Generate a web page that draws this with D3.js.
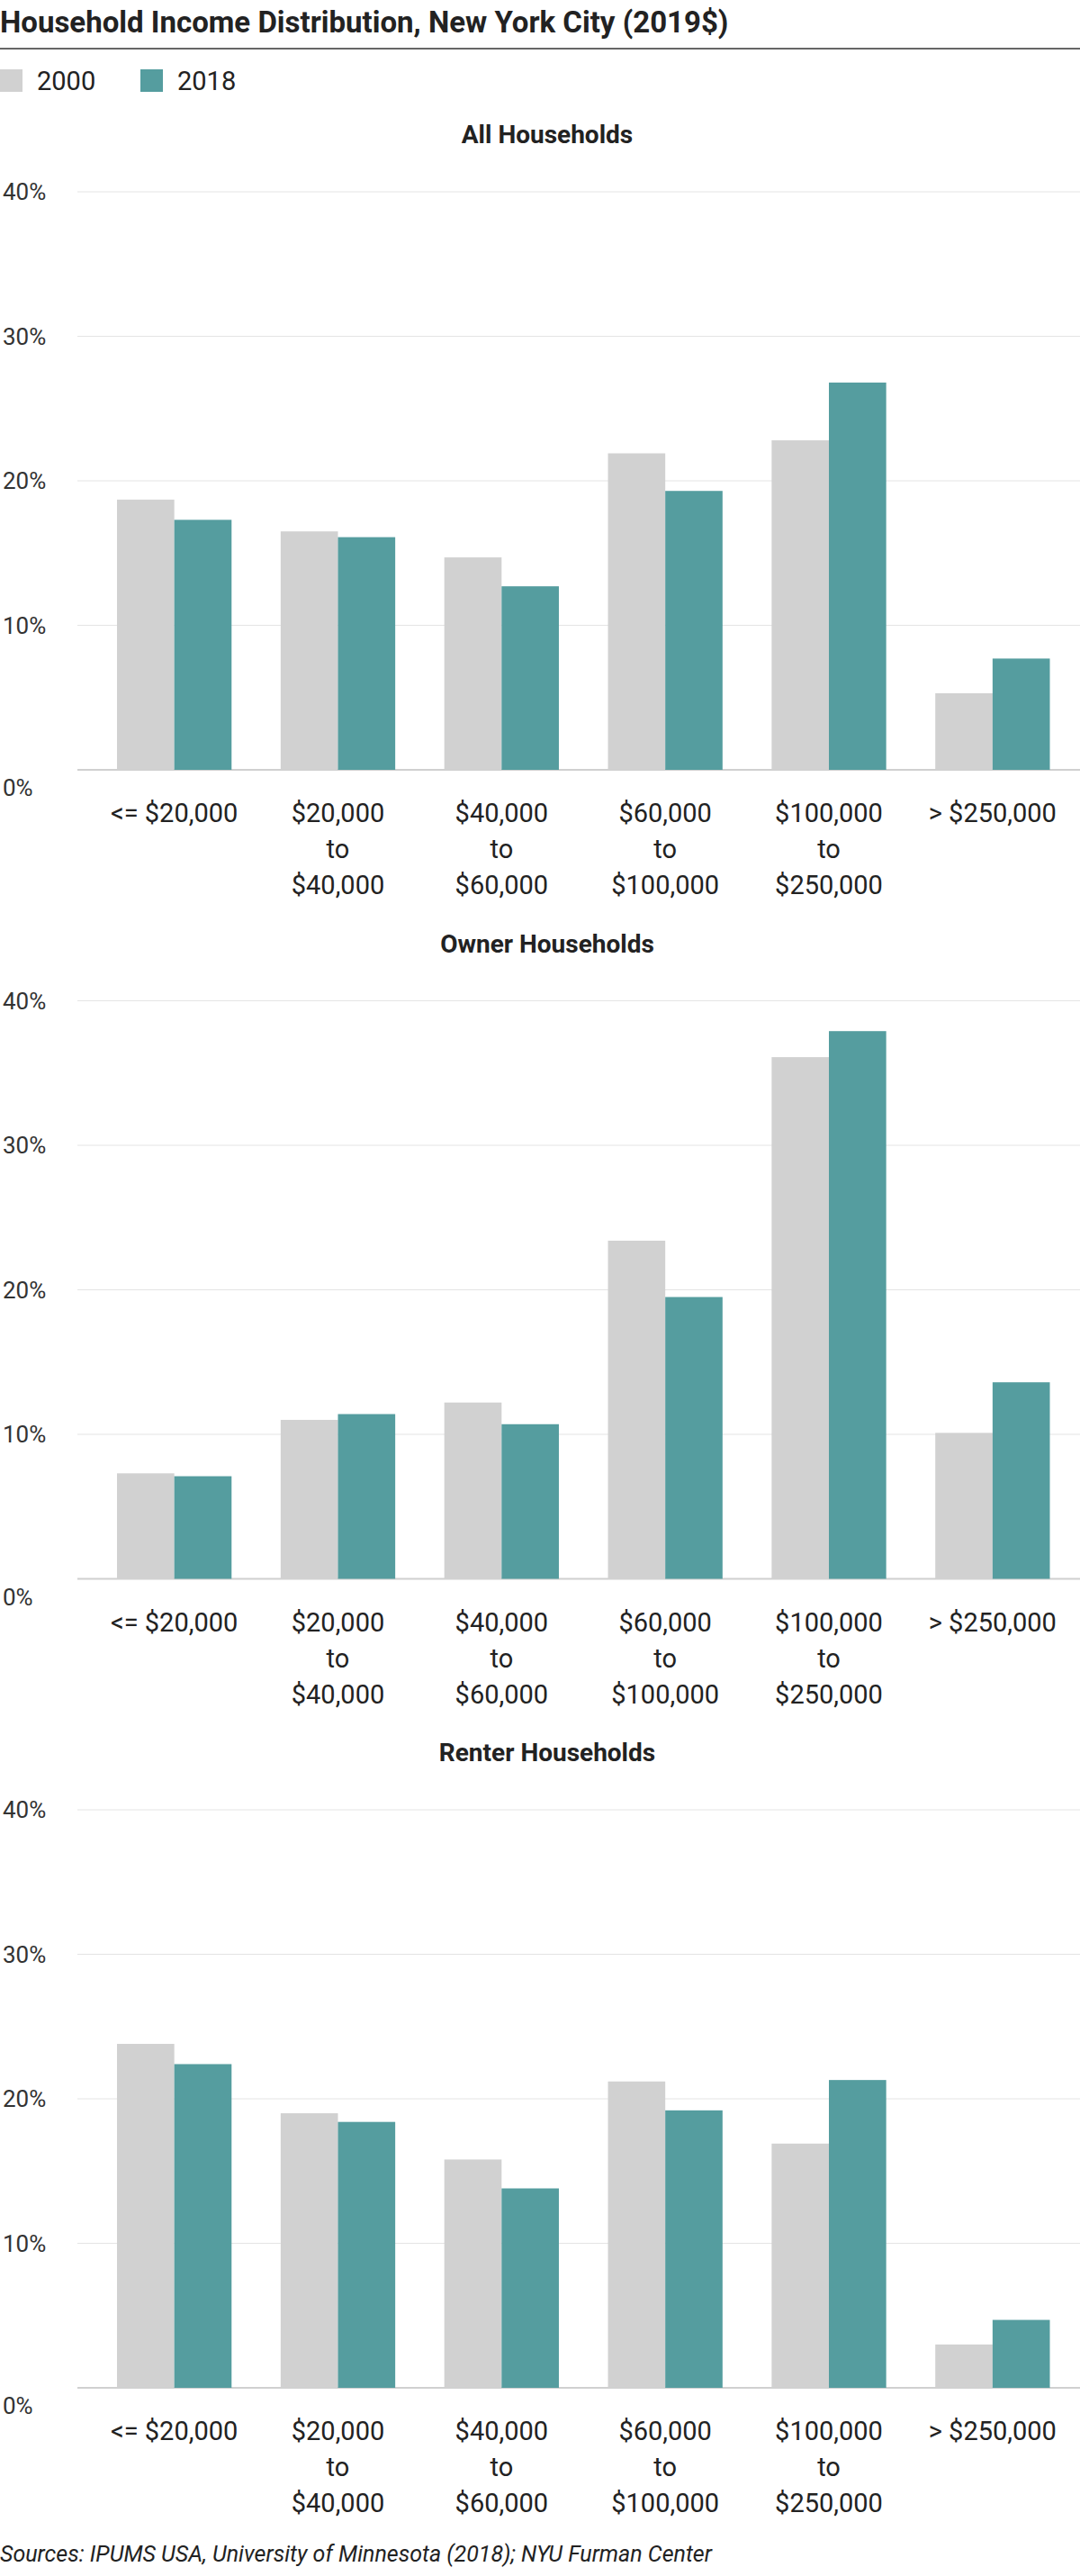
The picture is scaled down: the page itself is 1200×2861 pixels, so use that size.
<!DOCTYPE html>
<html><head><meta charset="utf-8">
<script src="https://cdn.jsdelivr.net/npm/d3@7"></script>
<style>body{margin:0;background:#fff}text{font-family:"Liberation Sans Narrow","Roboto","Noto Sans",sans-serif;fill:#222}</style>
</head><body><div id="chart"></div>
<script>
// data
var categories = ["<= $20,000", "$20,000 to $40,000", "$40,000 to $60,000", "$60,000 to $100,000", "$100,000 to $250,000", "> $250,000"];
var labelLines = [["<= $20,000"], ["$20,000","to","$40,000"], ["$40,000","to","$60,000"], ["$60,000","to","$100,000"], ["$100,000","to","$250,000"], ["> $250,000"]];
var years = ["2000", "2018"];
var panelTitles = ["All Households", "Owner Households", "Renter Households"];
var all2000 = [18.7, 16.5, 14.7, 21.9, 22.8, 5.3];
var all2018 = [17.3, 16.1, 12.7, 19.3, 26.8, 7.7];
var owner2000 = [7.3, 11.0, 12.2, 23.4, 36.1, 10.1];
var owner2018 = [7.1, 11.4, 10.7, 19.5, 37.9, 13.6];
var renter2000 = [23.8, 19.0, 15.8, 21.2, 16.9, 3.0];
var renter2018 = [22.4, 18.4, 13.8, 19.2, 21.3, 4.7];
var yTicks = [0, 10, 20, 30, 40];

var panels = [[all2000, all2018], [owner2000, owner2018], [renter2000, renter2018]];
var colors = {"2000": "#d1d1d1", "2018": "#559d9f"};

var width = 1200, height = 2861;
var svg = d3.select("#chart").append("svg").attr("width", width).attr("height", height);

// header
svg.append("text").attr("x", 0).attr("y", 36).style("font-size", "33px").style("font-weight", "bold").text("Household Income Distribution, New York City (2019$)");
svg.append("line").attr("x1", 0).attr("x2", width).attr("y1", 54).attr("y2", 54).style("stroke", "#333").style("stroke-width", 1.5);

var legendX = [0, 156];
years.forEach(function(yr, i) {
  svg.append("rect").attr("x", legendX[i]).attr("y", 77).attr("width", 25).attr("height", 25).style("fill", colors[yr]);
  svg.append("text").attr("x", legendX[i] + 41).attr("y", 100).style("font-size", "29px").text(yr);
});

var x0 = d3.scaleBand().domain(categories).range([130, 1166.5]).paddingInner(0.3).paddingOuter(0);
var x1 = d3.scaleBand().domain(years).range([0, x0.bandwidth()]);

panels.forEach(function(series, p) {
  var top = 213 + p * 898.5;
  var y = d3.scaleLinear().domain([0, 40]).range([top + 642, top]);
  var g = svg.append("g");

  g.append("text").attr("x", 608).attr("y", top - 54).attr("text-anchor", "middle")
    .style("font-size", "28px").style("font-weight", "bold").text(panelTitles[p]);

  g.selectAll(".grid").data(yTicks).enter().append("line")
    .attr("x1", 86).attr("x2", width)
    .attr("y1", function(d) { return y(d); }).attr("y2", function(d) { return y(d); })
    .style("stroke", function(d) { return d === 0 ? "#d0d0d0" : "#e4e4e4"; })
    .style("stroke-width", function(d) { return d === 0 ? 2 : 1; });

  g.selectAll(".ylab").data(yTicks).enter().append("text")
    .attr("x", 3)
    .attr("y", function(d) { return y(d) + (d === 0 ? 29 : 9); })
    .style("font-size", "26px").style("fill", "#333")
    .text(function(d) { return d + "%"; });

  categories.forEach(function(c, i) {
    years.forEach(function(yr, k) {
      var v = series[k][i];
      g.append("rect")
        .attr("x", x0(c) + x1(yr)).attr("width", x1.bandwidth())
        .attr("y", y(v)).attr("height", y(0) - y(v))
        .style("fill", colors[yr]);
    });
    var t = g.append("text").attr("text-anchor", "middle")
      .attr("x", x0(c) + x0.bandwidth() / 2).attr("y", y(0) + 58)
      .style("font-size", "29px");
    labelLines[i].forEach(function(line, j) {
      t.append("tspan").attr("x", x0(c) + x0.bandwidth() / 2).attr("dy", j === 0 ? 0 : 40).text(line);
    });
  });
});

svg.append("text").attr("x", 0).attr("y", 2845).style("font-size", "25px").style("font-style", "italic")
  .text("Sources: IPUMS USA, University of Minnesota (2018); NYU Furman Center");
</script>
</body></html>
